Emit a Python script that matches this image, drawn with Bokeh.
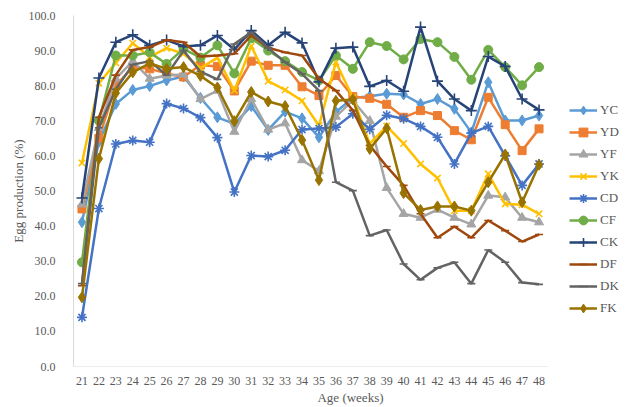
from bokeh.plotting import figure
from bokeh.models import Range1d, FixedTicker, NumeralTickFormatter, Legend, LegendItem
from bokeh.embed import file_html
from bokeh.resources import INLINE

weeks = list(range(21, 49))

YC = [41.1, 64.0, 74.8, 78.8, 79.9, 81.5, 82.6, 76.5, 71.0, 69.1, 74.2, 67.4, 72.6, 70.7, 65.3, 72.5, 76.5, 77.0, 77.7, 77.5, 74.8, 76.2, 73.4, 66.7, 81.0, 70.1, 70.1, 71.5]
YD = [44.9, 65.0, 80.0, 85.3, 84.8, 83.5, 82.5, 85.9, 85.5, 78.5, 87.0, 85.8, 85.8, 79.7, 77.2, 82.9, 76.9, 76.4, 74.7, 71.0, 72.9, 71.5, 67.2, 64.6, 76.7, 68.9, 61.5, 67.7]
YF = [46.2, 68.0, 82.0, 87.0, 82.0, 82.9, 83.2, 76.2, 78.6, 66.9, 76.2, 67.5, 69.3, 58.8, 55.7, 71.2, 75.8, 70.0, 50.9, 43.5, 42.4, 44.7, 42.4, 40.5, 48.7, 48.2, 42.4, 41.1]
YK = [58.0, 80.7, 86.5, 92.1, 88.2, 90.7, 89.1, 85.0, 88.0, 78.6, 91.3, 81.3, 78.8, 75.7, 68.6, 86.7, 76.7, 63.5, 68.5, 63.5, 57.7, 53.7, 44.4, 44.4, 54.9, 46.3, 46.1, 43.5]
CD = [14.0, 45.0, 63.4, 64.4, 63.9, 74.9, 73.5, 70.9, 65.2, 49.7, 60.1, 59.8, 61.6, 67.5, 67.8, 68.2, 72.0, 67.6, 71.6, 70.6, 68.4, 65.3, 57.7, 66.5, 68.4, 60.0, 51.6, 57.7]
CF = [29.7, 70.0, 88.6, 88.6, 89.5, 86.2, 90.5, 88.0, 91.5, 83.5, 93.5, 90.0, 87.0, 83.9, 81.5, 88.6, 84.8, 92.4, 91.3, 87.5, 93.3, 92.4, 88.2, 81.7, 90.2, 85.3, 80.1, 85.3]
CK = [48.0, 82.2, 92.4, 94.5, 91.5, 93.0, 91.2, 91.5, 94.3, 90.3, 95.7, 91.5, 95.2, 92.2, 81.1, 90.7, 91.0, 79.8, 81.5, 78.4, 96.7, 81.3, 76.2, 72.9, 88.3, 85.5, 76.2, 73.1]
DF = [23.0, 71.0, 83.0, 90.2, 91.0, 93.0, 92.4, 88.3, 88.6, 89.1, 94.3, 90.8, 89.5, 88.6, 82.0, 78.6, 73.0, 63.0, 57.0, 51.6, 43.5, 36.7, 39.9, 36.7, 41.6, 38.7, 35.6, 37.6]
DK = [23.6, 68.0, 79.0, 86.0, 87.0, 83.0, 90.0, 84.0, 81.8, 91.9, 95.2, 90.7, 86.7, 83.4, 78.6, 52.5, 50.1, 37.3, 38.9, 29.2, 24.7, 28.1, 29.7, 23.6, 33.2, 29.7, 23.9, 23.4]
FK = [19.7, 59.2, 77.9, 83.8, 86.4, 84.8, 85.3, 82.8, 79.5, 69.9, 78.2, 75.5, 74.2, 64.5, 53.1, 75.7, 76.1, 62.0, 67.9, 49.4, 44.6, 45.6, 45.6, 44.4, 52.5, 60.4, 46.8, 57.5]

y_ticks = [0, 10, 20, 30, 40, 50, 60, 70, 80, 90, 100]

series = [
    ("YC", YC, "#5B9BD5", "diamond", 11),
    ("YD", YD, "#ED7D31", "square", 8),
    ("YF", YF, "#A5A5A5", "triangle", 9),
    ("YK", YK, "#FFC000", "x", 9),
    ("CD", CD, "#4472C4", "asterisk", 10),
    ("CF", CF, "#70AD47", "circle", 9),
    ("CK", CK, "#264478", "cross", 11),
    ("DF", DF, "#9E480E", "dash", 8),
    ("DK", DK, "#636363", "dash", 8),
    ("FK", FK, "#997300", "diamond", 11),
]

FONT = "Liberation Serif"
TXT = "#595959"
AXIS_COLOR = "#D9D9D9"

W, H = 627, 407
LEFT, RIGHT_PLOT = 73, 547  # plot area of the axis (pixels); legend sits to the right
x0 = weeks[0] - 0.5
x1 = weeks[-1] + 0.5
x_end = x0 + (x1 - x0) * (W - LEFT) / (RIGHT_PLOT - LEFT)

p = figure(width=W, height=H, output_backend="svg", toolbar_location=None,
           x_range=Range1d(x0, x_end), y_range=Range1d(0, 100),
           min_border_left=LEFT, min_border_right=0, min_border_top=15, min_border_bottom=41)
p.outline_line_color = None
p.grid.visible = False

# category-axis baseline only across the plotted weeks
p.segment(x0=[x0], y0=[0], x1=[x1], y1=[0], line_color=AXIS_COLOR, line_width=1)

items = []
for name, vals, color, marker, size in series:
    r1 = p.line(weeks, vals, line_color=color, line_width=2.5)
    if marker in ("x", "asterisk", "cross", "dash"):
        r2 = p.scatter(weeks, vals, marker=marker, size=size, line_color=color, line_width=1.6)
    else:
        r2 = p.scatter(weeks, vals, marker=marker, size=size, fill_color=color, line_color=color)
    items.append(LegendItem(label=name, renderers=[r1, r2]))

for ax in (p.xaxis[0], p.yaxis[0]):
    ax.axis_line_color = AXIS_COLOR
    ax.major_tick_line_color = None
    ax.minor_tick_line_color = None
    ax.major_label_text_font = FONT
    ax.major_label_text_color = TXT
    ax.major_label_text_font_size = "12px"
    ax.axis_label_text_font = FONT
    ax.axis_label_text_color = TXT
    ax.axis_label_text_font_size = "13px"
    ax.axis_label_text_font_style = "normal"

p.xaxis.axis_line_color = None
p.xaxis.ticker = FixedTicker(ticks=weeks)
p.xaxis.major_label_standoff = 4
p.xaxis.axis_label = "Age (weeks)"
p.xaxis.axis_label_standoff = 2

p.yaxis.ticker = FixedTicker(ticks=y_ticks)
p.yaxis.formatter = NumeralTickFormatter(format="0.0")
p.yaxis.major_label_standoff = 12
p.yaxis.axis_label = "Egg production (%)"
p.yaxis.axis_label_standoff = 0

legend = Legend(items=items, location=(496, 47), padding=0, spacing=0, margin=0,
                glyph_width=28, glyph_height=22, label_height=22, label_standoff=3,
                label_text_font=FONT, label_text_font_size="13px", label_text_color=TXT,
                border_line_color=None, background_fill_alpha=0)
p.add_layout(legend, "center")

open("out.html", "w").write(file_html(p, INLINE))
